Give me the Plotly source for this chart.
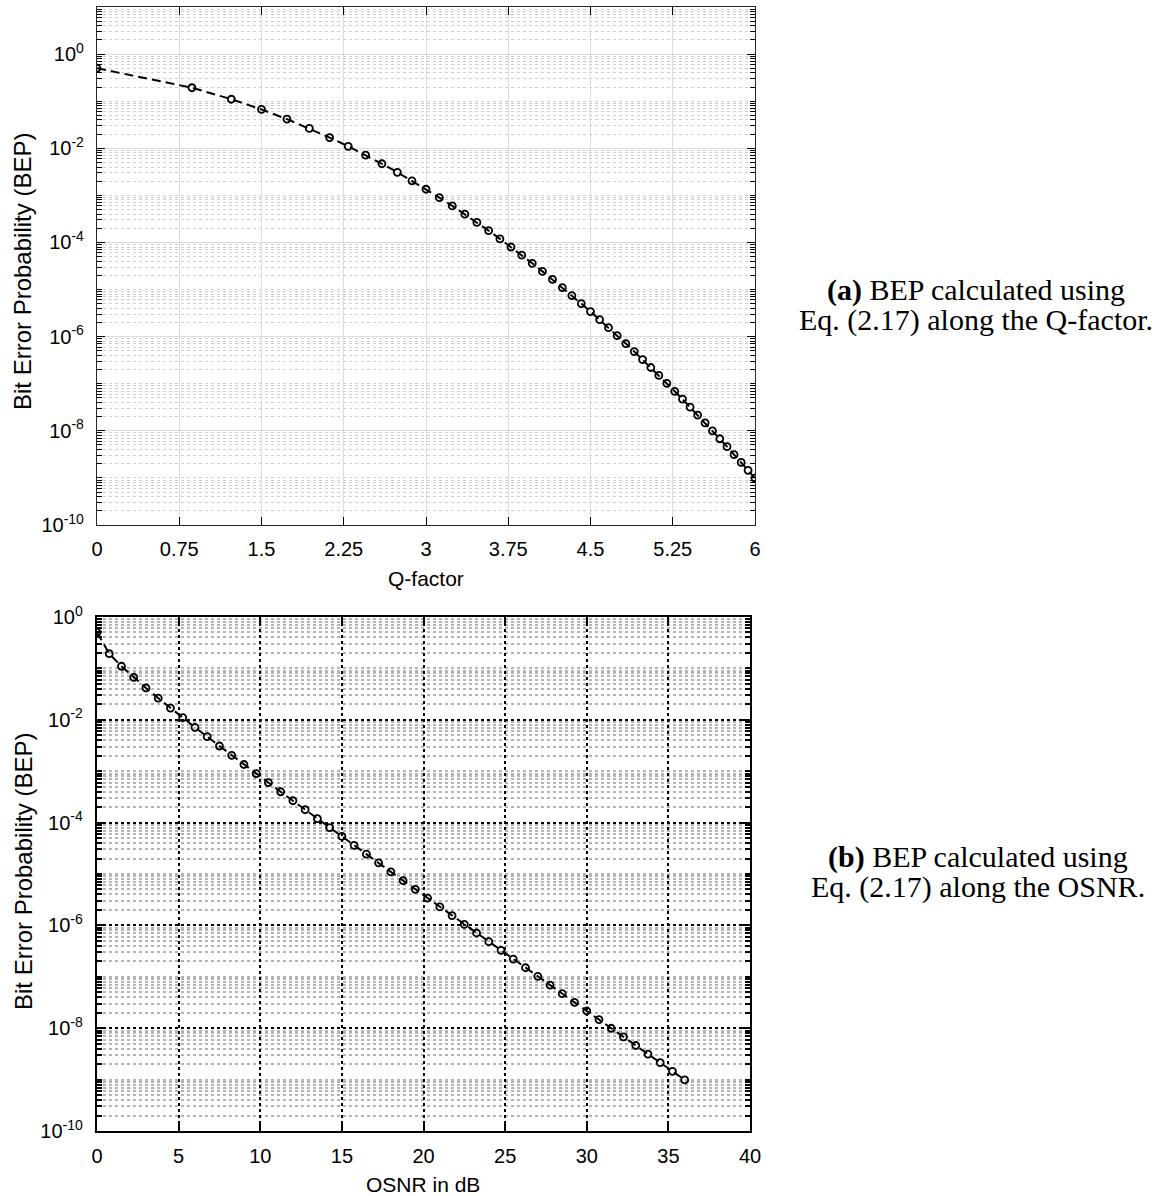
import plotly.graph_objects as go

# ---------------- data ----------------
q_factor = [0.000, 0.866, 1.225, 1.500, 1.732, 1.936, 2.121, 2.291, 2.449, 2.598,
            2.739, 2.872, 3.000, 3.122, 3.240, 3.354, 3.464, 3.571, 3.674, 3.775,
            3.873, 3.969, 4.062, 4.153, 4.243, 4.330, 4.416, 4.500, 4.583, 4.664,
            4.743, 4.822, 4.899, 4.975, 5.050, 5.123, 5.196, 5.268, 5.339, 5.408,
            5.477, 5.545, 5.612, 5.679, 5.745, 5.809, 5.874, 5.937, 6.000]

osnr_db = [0.00, 0.75, 1.50, 2.25, 3.00, 3.75, 4.50, 5.25, 6.00, 6.75,
           7.50, 8.25, 9.00, 9.75, 10.50, 11.25, 12.00, 12.75, 13.50, 14.25,
           15.00, 15.75, 16.50, 17.25, 18.00, 18.75, 19.50, 20.25, 21.00, 21.75,
           22.50, 23.25, 24.00, 24.75, 25.50, 26.25, 27.00, 27.75, 28.50, 29.25,
           30.00, 30.75, 31.50, 32.25, 33.00, 33.75, 34.50, 35.25, 36.00]

bep = [5.0e-1, 1.93e-1, 1.10e-1, 6.68e-2, 4.16e-2, 2.64e-2, 1.69e-2, 1.10e-2, 7.15e-3, 4.69e-3,
       3.09e-3, 2.04e-3, 1.35e-3, 8.97e-4, 5.97e-4, 3.98e-4, 2.66e-4, 1.78e-4, 1.19e-4, 8.0e-5,
       5.38e-5, 3.61e-5, 2.43e-5, 1.64e-5, 1.10e-5, 7.45e-6, 5.03e-6, 3.40e-6, 2.30e-6, 1.55e-6,
       1.05e-6, 7.11e-7, 4.82e-7, 3.26e-7, 2.21e-7, 1.50e-7, 1.02e-7, 6.90e-8, 4.69e-8, 3.18e-8,
       2.16e-8, 1.47e-8, 9.97e-9, 6.78e-9, 4.61e-9, 3.13e-9, 2.13e-9, 1.45e-9, 9.87e-10]

q_ticks = [0, 0.75, 1.5, 2.25, 3, 3.75, 4.5, 5.25, 6]
q_tick_text = ["0", "0.75", "1.5", "2.25", "3", "3.75", "4.5", "5.25", "6"]
osnr_ticks = [0, 5, 10, 15, 20, 25, 30, 35, 40]
y_exponents = [0, -2, -4, -6, -8, -10]

y_title = "Bit Error Probability (BEP)"
x_title_top = "Q-factor"
x_title_bottom = "OSNR in dB"
caption_a = ["<b>(a)</b> BEP calculated using", "Eq. (2.17) along the Q-factor."]
caption_b = ["<b>(b)</b> BEP calculated using", "Eq. (2.17) along the OSNR."]

W, H = 1170, 1196

# ---------------- helpers ----------------
y_major = [10.0 ** e for e in y_exponents]
y_text = ["10<sup>%d</sup>" % e for e in y_exponents]


def minor_vals(lo, hi):
    vals = []
    for e in range(lo, hi + 1):
        for d in range(1, 10):
            if e == hi and d > 1:
                break
            if d == 1 and e in y_exponents:
                continue
            vals.append(d * 10.0 ** e)
    return vals


def px_x(a, b):
    return [a / W, b / W]


def px_y(top, bottom):
    return [1 - bottom / H, 1 - top / H]


SANS = "Liberation Sans, Arial, sans-serif"
tick_font = dict(family=SANS, size=20, color="black")
title_font = dict(family=SANS, size=21, color="black")
ytitle_font = dict(family=SANS, size=24, color="black")
cap_font = dict(family="Liberation Serif, Times New Roman, serif", size=30, color="black")

fig = go.Figure()

line_style = dict(color="black", width=2, dash="9px,5px")
marker_style = dict(symbol="circle-open", size=7, color="black",
                    line=dict(color="black", width=1.8))

fig.add_trace(go.Scatter(x=q_factor, y=bep, mode="lines+markers", line=line_style,
                         marker=marker_style, xaxis="x", yaxis="y", showlegend=False))
fig.add_trace(go.Scatter(x=osnr_db, y=bep, mode="lines+markers", line=line_style,
                         marker=marker_style, xaxis="x2", yaxis="y2", showlegend=False))

TOP = (7, 525)
BOT = (617, 1131)

fig.update_layout(
    xaxis=dict(domain=px_x(97, 755), range=[0, 6], tickmode="array", tickvals=q_ticks,
               ticktext=q_tick_text, ticks="inside", ticklen=8, tickwidth=1, tickcolor="black",
               showline=True, linecolor="#262626", linewidth=1.2, mirror="ticks",
               showgrid=True, gridcolor="#dcdcdc", gridwidth=1.2, zeroline=False,
               tickfont=tick_font, ticklabelstandoff=6, automargin=False, anchor="y"),
    yaxis=dict(domain=px_y(*TOP), type="log", range=[-10, 1], tickmode="array",
               tickvals=y_major, ticktext=y_text, ticks="inside", ticklen=8, tickwidth=1,
               tickcolor="black", showline=True, linecolor="#262626", linewidth=1.2,
               mirror="ticks", showgrid=True, gridcolor="#dcdcdc", gridwidth=1.2,
               zeroline=False, tickfont=tick_font, ticklabelstandoff=8, automargin=False,
               minor=dict(tickmode="array", tickvals=minor_vals(-10, 1), ticks="inside",
                          ticklen=5, tickcolor="black", tickwidth=1, showgrid=True,
                          gridcolor="#d0d0d0", griddash="dot", gridwidth=1),
               anchor="x"),
    xaxis2=dict(domain=px_x(97, 750), range=[0, 40], tickmode="array", tickvals=osnr_ticks,
                ticks="inside", ticklen=8, tickwidth=2, tickcolor="black",
                showline=True, linecolor="black", linewidth=2.4, mirror="ticks",
                showgrid=True, gridcolor="black", gridwidth=2, griddash="dot", zeroline=False,
                tickfont=tick_font, ticklabelstandoff=6, automargin=False, anchor="y2"),
    yaxis2=dict(domain=px_y(*BOT), type="log", range=[-10, 0], tickmode="array",
                tickvals=y_major, ticktext=y_text, ticks="inside", ticklen=8, tickwidth=2,
                tickcolor="black", showline=True, linecolor="black", linewidth=2.4,
                mirror="ticks", showgrid=True, gridcolor="black", gridwidth=2, griddash="dot",
                zeroline=False, tickfont=tick_font, ticklabelstandoff=8, automargin=False,
                minor=dict(tickmode="array", tickvals=minor_vals(-10, 0), ticks="inside",
                           ticklen=5, tickcolor="black", tickwidth=2, showgrid=True,
                           gridcolor="#b4b4b4", griddash="dot", gridwidth=2),
                anchor="x2"),
)


def add_text(text, xc, yc, font, angle=0):
    fig.add_annotation(text=text, x=xc / W, y=1 - yc / H, xref="paper", yref="paper",
                       showarrow=False, xanchor="center", yanchor="middle",
                       font=font, textangle=angle)


# axis titles
add_text(y_title, 23, 272, ytitle_font, -90)
add_text(y_title, 23, 872, ytitle_font, -90)
add_text(x_title_top, 426, 578, title_font)
add_text(x_title_bottom, 423, 1184, title_font)

# captions
add_text(caption_a[0], 976, 290, cap_font)
add_text(caption_a[1], 976, 320, cap_font)
add_text(caption_b[0], 978, 857, cap_font)
add_text(caption_b[1], 978, 887, cap_font)

fig.update_layout(width=W, height=H, margin=dict(l=0, r=0, t=0, b=0),
                  paper_bgcolor="white", plot_bgcolor="white")

fig.write_html("out.html")
